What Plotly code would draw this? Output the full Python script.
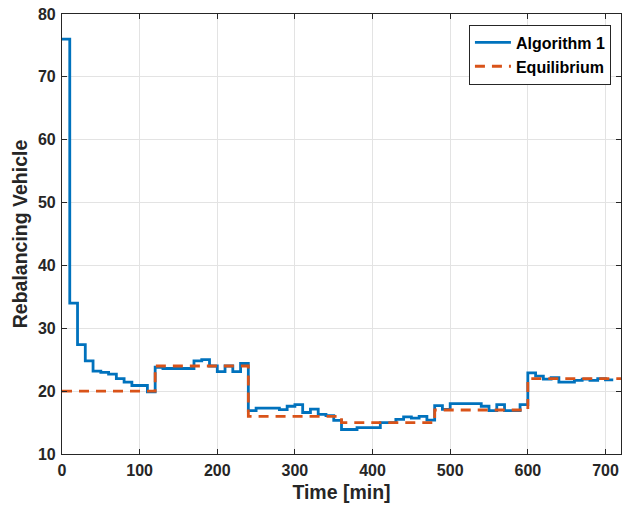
import plotly.graph_objects as go

# Step start times [min] and values
alg_times = list(range(0, 720, 10))
alg_values = [76, 34, 27.4, 24.8, 23.2, 23.0, 22.7, 22.0, 21.45, 20.9,
              20.9, 19.9, 23.8, 23.6, 23.6, 23.6, 23.6, 24.8, 25.0, 24.0,
              23.1, 24.0, 23.1, 24.4, 16.9, 17.3, 17.3, 17.3, 17.05, 17.6,
              17.85, 16.6, 17.15, 16.3, 16.1, 15.35, 13.9, 13.9, 14.2, 14.2,
              14.2, 15.0, 15.0, 15.5, 15.9, 15.7, 16.0, 15.4, 17.7, 17.1,
              18.0, 18.0, 18.0, 18.0, 17.6, 16.9, 17.85, 16.9, 16.9, 17.85,
              22.9, 22.4, 21.9, 22.15, 21.45, 21.45, 21.7, 21.9, 21.7, 22.0,
              21.8, 21.8]
alg_end = 710

eq_times = [0, 120, 240, 360, 480, 600]
eq_values = [20, 24, 16, 15, 17, 22]
eq_end = 720

x_ticks = [0, 100, 200, 300, 400, 500, 600, 700]
y_ticks = [10, 20, 30, 40, 50, 60, 70, 80]

BLUE = "#0072BD"
ORANGE = "#D95319"
AX = "#262626"
FONT = "Liberation Sans, Arial, sans-serif"

fig = go.Figure()
fig.add_trace(go.Scatter(
    x=alg_times[:-1] + [alg_end], y=alg_values[:-1] + [alg_values[-1]],
    mode="lines", line=dict(color=BLUE, width=2.8, shape="hv"),
    name="Algorithm 1"))
fig.add_trace(go.Scatter(
    x=eq_times + [eq_end], y=eq_values + [eq_values[-1]],
    mode="lines", line=dict(color=ORANGE, width=2.8, shape="hv", dash="10px,7px"),
    name="Equilibrium"))

axis_common = dict(
    showline=True, linecolor=AX, linewidth=1.2, mirror="ticks",
    ticks="inside", ticklen=5, tickcolor=AX, tickwidth=1,
    showgrid=True, gridcolor="#E3E3E3", gridwidth=1, zeroline=False,
    automargin=False,
    tickfont=dict(family=FONT, size=16, color=AX, weight="bold"),
)

fig.update_xaxes(range=[0, 720], tickvals=x_ticks, ticklabelstandoff=2,
                 title=dict(text="Time [min]", standoff=7,
                            font=dict(family=FONT, size=19.5, color=AX, weight="bold")),
                 **axis_common)
fig.update_yaxes(range=[10, 80], tickvals=y_ticks, ticklabelstandoff=2,
                 title=dict(text="Rebalancing Vehicle", standoff=5,
                            font=dict(family=FONT, size=19.5, color=AX, weight="bold")),
                 **axis_common)

fig.update_layout(
    width=623, height=512,
    margin=dict(l=62, r=2, t=14, b=58),
    plot_bgcolor="white", paper_bgcolor="white",
    showlegend=True,
    legend=dict(x=0.982, y=0.976, xanchor="right", yanchor="top",
                bgcolor="white", bordercolor=AX, borderwidth=1,
                font=dict(family=FONT, size=16, color="black", weight="bold"),
                itemwidth=36, tracegroupgap=0),
)

fig.write_html("out.html", config={"displayModeBar": False},
               post_script="document.body.style.margin='0';document.body.style.overflow='hidden';")
